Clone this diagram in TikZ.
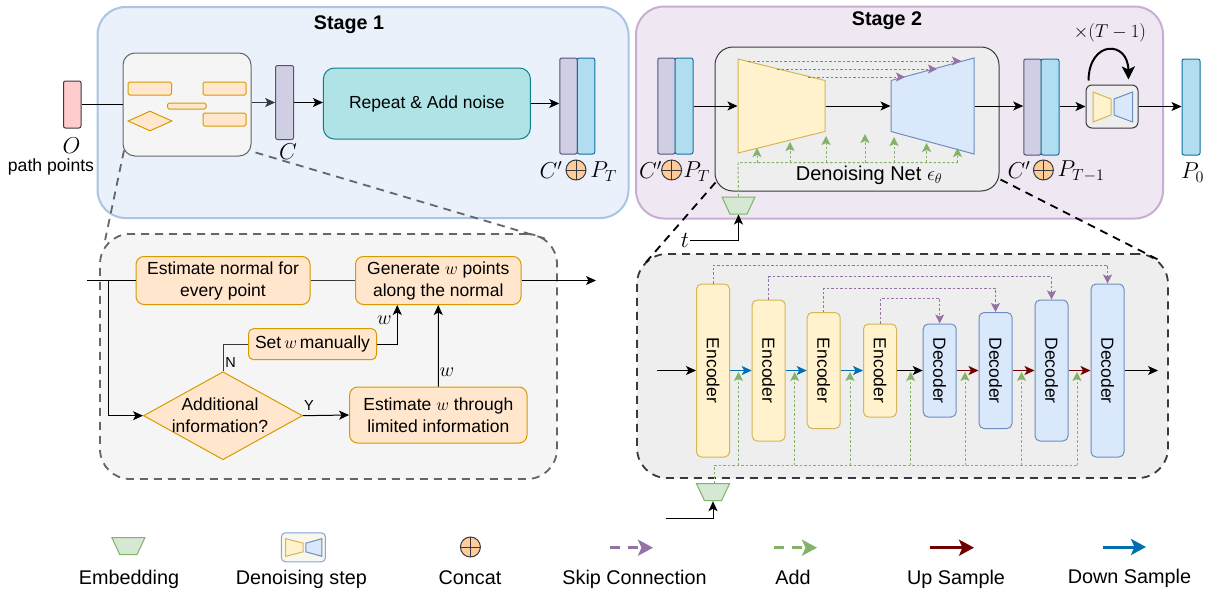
\documentclass[tikz,border=0pt]{standalone}
\usepackage{fix-cm}
\usepackage{amsmath}
\usepackage{fontspec}
\setmainfont{Liberation Sans}
\usetikzlibrary{arrows.meta,shapes.geometric}
\definecolor{stageonefill}{HTML}{EAF1FB}
\definecolor{stageonedraw}{HTML}{A9C4E4}
\definecolor{stagetwofill}{HTML}{EFE8F3}
\definecolor{stagetwodraw}{HTML}{C8AED2}
\definecolor{graydraw}{HTML}{666666}
\definecolor{darkdraw}{HTML}{36393D}
\definecolor{grayfill}{HTML}{F5F5F5}
\definecolor{netfill}{HTML}{EEEEEE}
\definecolor{orangefill}{HTML}{FFE6CC}
\definecolor{orangedraw}{HTML}{D79B00}
\definecolor{yellowfill}{HTML}{FFF2CC}
\definecolor{yellowdraw}{HTML}{D6B656}
\definecolor{bluefill}{HTML}{DAE8FC}
\definecolor{bluedraw}{HTML}{6C8EBF}
\definecolor{greenfill}{HTML}{D5E8D4}
\definecolor{greendraw}{HTML}{82B366}
\definecolor{purpledraw}{HTML}{9673A6}
\definecolor{pinkfill}{HTML}{FFCCCC}
\definecolor{noisefill}{HTML}{B0E3E6}
\definecolor{noisedraw}{HTML}{0E8088}
\definecolor{ptfill}{HTML}{B1DDF0}
\definecolor{ptdraw}{HTML}{10739E}
\definecolor{condfill}{HTML}{D0CEE2}
\definecolor{conddraw}{HTML}{56517E}
\definecolor{concatfill}{HTML}{FFCC99}
\definecolor{upcolor}{HTML}{6F0000}
\definecolor{downcolor}{HTML}{006EAF}
\definecolor{legendfill}{HTML}{F9F6EC}
\definecolor{legenddraw}{HTML}{7EA6E0}
\begin{document}
\begin{tikzpicture}[x=1pt,y=-1pt,line width=1pt]
    \tikzstyle{every node}+=[inner sep=0pt]
    \tikzstyle{txt}=[font=\fontsize{17.5}{22}\selectfont,align=center]
    \tikzstyle{legendtxt}=[font=\fontsize{19.8}{22}\selectfont,anchor=base]
    \tikzstyle{titletxt}=[font=\fontsize{19.7}{22}\selectfont\bfseries]
    \tikzstyle{mathtxt}=[font=\fontsize{23}{26}\selectfont]
    \tikzstyle{smalltxt}=[font=\fontsize{14.5}{16}\selectfont]
    \tikzstyle{bar}=[rectangle,rounded corners=2pt,minimum width=17.5,minimum height=96]
    \tikzstyle{condbar}=[bar,draw=conddraw,fill=condfill]
    \tikzstyle{ptbar}=[bar,draw=ptdraw,fill=ptfill]
    \tikzstyle{flowbox}=[rectangle,rounded corners=8pt,draw=orangedraw,fill=orangefill,txt]
    \tikzstyle{minibox}=[rectangle,rounded corners=1.5pt,draw=orangedraw,fill=orangefill]
    \tikzstyle{encbox}=[rectangle,rounded corners=5pt,draw=yellowdraw,fill=yellowfill,minimum width=33,txt]
    \tikzstyle{decbox}=[rectangle,rounded corners=5pt,draw=bluedraw,fill=bluefill,minimum width=33,txt]
    \tikzstyle{trap}=[trapezium,trapezium stretches=true,text width=1pt,text height=1pt,text depth=0pt]
    \tikzstyle{enctrap}=[trap,draw=yellowdraw,fill=yellowfill,rotate=-90]
    \tikzstyle{dectrap}=[trap,draw=bluedraw,fill=bluefill,rotate=90]
    \tikzstyle{embtrap}=[trap,draw=greendraw,fill=greenfill,rotate=180,trapezium angle=65,minimum width=33,minimum height=17]
    \tikzstyle{concat}=[circle,draw=darkdraw,fill=concatfill,minimum size=20,path picture={\draw [darkdraw] (path picture bounding box.north) -- (path picture bounding box.south) (path picture bounding box.west) -- (path picture bounding box.east);}]
    \tikzstyle{flow}=[-{Stealth[length=10pt,width=9pt,inset=2.5pt]},black]
    \tikzstyle{skipline}=[-{Stealth[length=9pt,width=9pt,inset=2pt]},purpledraw,dash pattern=on 2.5pt off 2pt]
    \tikzstyle{addline}=[-{Stealth[length=9pt,width=9pt,inset=2pt]},greendraw,dash pattern=on 2.5pt off 2pt]
    \tikzstyle{downarrow}=[flow,downcolor,line width=1.4pt]
    \tikzstyle{uparrow}=[flow,upcolor,line width=1.4pt]
    \tikzstyle{zoomline}=[dash pattern=on 8pt off 6pt,line width=1.8pt]
    \useasboundingbox (0,0) rectangle (1213,589);
    \node [rectangle,rounded corners=28pt,draw=stageonedraw,fill=stageonefill,line width=2pt,minimum width=531,minimum height=211] (stageone) at (363,112.5) {};
    \node [rectangle,rounded corners=28pt,draw=stagetwodraw,fill=stagetwofill,line width=2pt,minimum width=527,minimum height=212] (stagetwo) at (899.5,112.5) {};
    \node [titletxt] (stageonetitle) at (349,25) {Stage 1};
    \node [titletxt] (stagetwotitle) at (887,21) {Stage 2};
    \node [rectangle,rounded corners=2pt,draw=darkdraw,fill=pinkfill,minimum width=17.5,minimum height=47] (obspts) at (72.25,104.5) {};
    \node [mathtxt] (obslabel) at (71.5,146) {$O$};
    \node [font=\fontsize{17.6}{20}\selectfont] (pathlabel) at (51,167) {path points};
    \node [rectangle,rounded corners=12pt,draw=graydraw,fill=grayfill,minimum width=128,minimum height=103] (extract) at (187,104.5) {};
    \node [minibox,minimum width=43.5,minimum height=13] (miniA) at (149.75,88.5) {};
    \node [minibox,minimum width=43,minimum height=13] (miniB) at (224.5,88.5) {};
    \node [minibox,minimum width=38.5,minimum height=6] (miniC) at (186.75,106) {};
    \node [minibox,minimum width=43,minimum height=13] (miniD) at (224.5,119.5) {};
    \node [diamond,draw=orangedraw,fill=orangefill,minimum width=44,minimum height=20,aspect=2.2] (miniE) at (150,121) {};
    \node [rectangle,rounded corners=2pt,draw=conddraw,fill=condfill,minimum width=18,minimum height=74] (cond) at (284.6,102.5) {};
    \node [mathtxt] (condlabel) at (288,152) {$C$};
    \node [rectangle,rounded corners=11pt,draw=noisedraw,fill=noisefill,minimum width=207,minimum height=71,txt] (noise) at (426.9,103.5) {Repeat \& Add noise};
    \node [condbar] (condA) at (568.5,106) {};
    \node [ptbar] (ptA) at (586,106) {};
    \node [mathtxt] (condAlabel) at (551,170) {$C'$};
    \node [concat] (concatA) at (576,170) {};
    \node [mathtxt] (ptAlabel) at (603.5,171.5) {$P_T$};
    \draw [black] (obspts.east) -- (extract.west);
    \draw [flow,draw=darkdraw] (extract.east |- cond) -- (cond.west);
    \draw [flow] (cond.east) -- (noise.west |- cond);
    \draw [flow] (noise.east) -- (condA.west |- noise);
    \node [condbar] (condB) at (666.5,106) {};
    \node [ptbar,minimum width=18] (ptB) at (684,106) {};
    \node [mathtxt] (condBlabel) at (650.5,170) {$C'$};
    \node [concat] (concatB) at (671.6,170) {};
    \node [mathtxt] (ptBlabel) at (696.5,171.5) {$P_T$};
    \node [rectangle,rounded corners=18pt,draw=darkdraw,fill=netfill,minimum width=284,minimum height=144] (net) at (857,119) {};
    \node [enctrap,trapezium angle=67.1,minimum width=94,minimum height=87] (enc) at (781.5,106) {};
    \node [dectrap,trapezium angle=66.2,minimum width=96,minimum height=83] (dec) at (932.5,106) {};
    \node [txt,font=\fontsize{20}{24}\selectfont] (netlabel) at (869,175) {Denoising Net $\epsilon_\theta$};
    \node [condbar] (condC) at (1032.5,107) {};
    \node [ptbar,minimum width=18] (ptC) at (1050,107) {};
    \node [mathtxt] (condClabel) at (1019,170) {$C'$};
    \node [concat] (concatC) at (1043.4,170) {};
    \node [mathtxt] (ptClabel) at (1081,171.5) {$P_{T-1}$};
    \node [rectangle,rounded corners=6pt,draw=darkdraw,fill=netfill,minimum width=52,minimum height=43] (stepbox) at (1112,106.5) {};
    \node [enctrap,trapezium angle=66.4,minimum width=30,minimum height=18] (stepenc) at (1102,107) {};
    \node [dectrap,trapezium angle=66.4,minimum width=30,minimum height=18.6] (stepdec) at (1123.3,107) {};
    \node [font=\fontsize{18.6}{22}\selectfont] (looplabel) at (1110,33) {$\times(T-1)$};
    \node [ptbar,minimum width=18] (ptD) at (1191,107) {};
    \node [mathtxt] (ptDlabel) at (1192.5,172.5) {$P_0$};
    \node [embtrap] (embnet) at (738.5,205.5) {};
    \node [mathtxt] (tlabel) at (685,240) {$t$};
    \draw [flow] (ptB.east) -- (enc.bottom side);
    \draw [flow] (enc.top side) -- (dec.top side);
    \draw [flow] (dec.bottom side) -- (condC.west |- dec);
    \draw [flow,line width=1.5pt] (ptC.east |- stepbox) -- (stepbox.west);
    \draw [flow] (stepbox.east) -- (ptD.west |- stepbox);
    \draw [flow] (tlabel.east) -| (embnet.top side);
    \draw [-{Stealth[length=13pt,width=13pt,inset=3pt]},line width=2pt] ([shift={(3,-4)}]stepbox.north west) .. controls (1089,40) and (1128,40) .. ([shift={(-10,-5)}]stepbox.north east);
    \coordinate (skipAs) at (748,61);
    \coordinate (skipAe) at (961,61);
    \coordinate (skipBs) at (777,69);
    \coordinate (skipBe) at (937,69);
    \coordinate (skipCs) at (808,77);
    \coordinate (skipCe) at (905,77);
    \draw [skipline] (skipAs) -- (skipAe);
    \draw [skipline] (skipBs) -- (skipBe);
    \draw [skipline] (skipCs) -- (skipCe);
    \coordinate (addnet) at (738,162.5);
    \coordinate (addnetA) at (757,148);
    \coordinate (addnetB) at (790,142);
    \coordinate (addnetC) at (826,136);
    \coordinate (addnetD) at (865,134);
    \coordinate (addnetE) at (894,137);
    \coordinate (addnetF) at (926.6,143);
    \coordinate (addnetG) at (957.5,148);
    \draw [greendraw,dash pattern=on 2.5pt off 2pt] (embnet.bottom side) -- (addnet) -- (addnet -| addnetG);
    \draw [addline] (addnet -| addnetA) -- (addnetA);
    \draw [addline] (addnet -| addnetB) -- (addnetB);
    \draw [addline] (addnet -| addnetC) -- (addnetC);
    \draw [addline] (addnet -| addnetD) -- (addnetD);
    \draw [addline] (addnet -| addnetE) -- (addnetE);
    \draw [addline] (addnet -| addnetF) -- (addnetF);
    \draw [addline] (addnet -| addnetG) -- (addnetG);
    \node [rectangle,rounded corners=30pt,draw=graydraw,fill=grayfill,zoomline,minimum width=457,minimum height=245] (flowarea) at (328.5,356.5) {};
    \draw [graydraw,zoomline] ([shift={(1.5,-6)}]extract.south west) -- ([shift={(6,7)}]flowarea.north west);
    \draw [graydraw,zoomline] ([shift={(4,-4)}]extract.south east) -- ([shift={(-11,6)}]flowarea.north east);
    \node [flowbox,minimum width=174,minimum height=48] (normal) at (223,280.5) {Estimate normal for\\every point};
    \node [flowbox,minimum width=165.5,minimum height=48] (generate) at (438.25,280.5) {Generate $w$ points\\along the normal};
    \node [flowbox,rounded corners=5pt,minimum width=128,minimum height=31] (setw) at (312.5,344.2) {Set\,$w$\,manually};
    \node [diamond,draw=orangedraw,fill=orangefill,minimum width=159,minimum height=88,aspect=1.8] (addinfo) at (223,415.7) {};
    \node [txt] (addinfotext) at (220,415.7) {Additional\\information?};
    \node [flowbox,minimum width=177.4,minimum height=56] (estw) at (438.3,415) {Estimate $w$ through\\limited information};
    \coordinate (flowin) at (87,280.5);
    \coordinate (flowsplit) at (108,280.5);
    \coordinate (flowout) at (596,280.5);
    \draw [black] (flowin) -- (normal.west);
    \draw [flow] (flowsplit) |- (addinfo.west);
    \draw [darkdraw] (normal.east) -- (generate.west);
    \draw [flow] (generate.east) -- (flowout);
    \draw [flow] (setw.east) -| ([xshift=-41pt]generate.south);
    \draw [flow] (estw.north) -- (generate.south);
    \draw [darkdraw] (addinfo.north) |- (setw.west);
    \draw [flow] (addinfo.east) -- (estw.west);
    \node [smalltxt] (nlabel) at (230.7,363) {N};
    \node [smalltxt] (ylabel) at (309,405.7) {Y};
    \node [font=\fontsize{20}{22}\selectfont] (wlabelA) at (384.5,320) {$w$};
    \node [font=\fontsize{20}{22}\selectfont] (wlabelB) at (447,371.7) {$w$};
    \node [rectangle,rounded corners=30pt,draw=darkdraw,fill=netfill,zoomline,minimum width=531,minimum height=224] (unetarea) at (902.5,366) {};
    \draw [black,zoomline] ([shift={(1,-9)}]net.south west) -- ([shift={(10,9)}]unetarea.north west);
    \draw [black,zoomline] ([shift={(1,-12)}]net.south east) -- ([shift={(-8,8)}]unetarea.north east);
    \node [encbox,minimum height=173] (encA) at (713,370.5) {\rotatebox{-90}{Encoder}};
    \node [encbox,minimum height=141] (encB) at (768.7,370.5) {\rotatebox{-90}{Encoder}};
    \node [encbox,minimum height=116] (encC) at (823.7,370.5) {\rotatebox{-90}{Encoder}};
    \node [encbox,minimum height=93] (encD) at (880,370.5) {\rotatebox{-90}{Encoder}};
    \node [decbox,minimum height=93] (decA) at (939.7,370.5) {\rotatebox{-90}{Decoder}};
    \node [decbox,minimum height=116] (decB) at (995.5,370.5) {\rotatebox{-90}{Decoder}};
    \node [decbox,minimum height=141] (decC) at (1051.5,370.5) {\rotatebox{-90}{Decoder}};
    \node [decbox,minimum height=173] (decD) at (1107.5,370.5) {\rotatebox{-90}{Decoder}};
    \coordinate (unetin) at (657,370.5);
    \coordinate (unetout) at (1158,370.5);
    \draw [flow] (unetin) -- (encA.west);
    \draw [downarrow] (encA.east) -- (encB.west);
    \draw [downarrow] (encB.east) -- (encC.west);
    \draw [downarrow] (encC.east) -- (encD.west);
    \draw [flow] (encD.east) -- (decA.west);
    \draw [uparrow] (decA.east) -- (decB.west);
    \draw [uparrow] (decB.east) -- (decC.west);
    \draw [uparrow] (decC.east) -- (decD.west);
    \draw [flow] (decD.east) -- (unetout);
    \draw [skipline] (encA.north) -- ++(0,-18.3) -| (decD.north);
    \draw [skipline] (encB.north) -- ++(0,-23) -| (decC.north);
    \draw [skipline] (encC.north) -- ++(0,-24) -| (decB.north);
    \draw [skipline] (encD.north) -- ++(0,-25) -| (decA.north);
    \node [embtrap] (embunet) at (713,492.2) {};
    \coordinate (embin) at (666,518);
    \draw [flow] (embin) -| (embunet.top side);
    \coordinate (addunet) at (714.4,465);
    \coordinate (addunetA) at (738.5,372);
    \coordinate (addunetB) at (794.7,372);
    \coordinate (addunetC) at (850,372);
    \coordinate (addunetD) at (910.7,372);
    \coordinate (addunetE) at (965,372);
    \coordinate (addunetF) at (1021.5,372);
    \coordinate (addunetG) at (1077,372);
    \draw [greendraw,dash pattern=on 2.5pt off 2pt] (embunet.bottom side -| addunet) -- (addunet) -- (addunet -| addunetG);
    \draw [addline] (addunet -| addunetA) -- (addunetA);
    \draw [addline] (addunet -| addunetB) -- (addunetB);
    \draw [addline] (addunet -| addunetC) -- (addunetC);
    \draw [addline] (addunet -| addunetD) -- (addunetD);
    \draw [addline] (addunet -| addunetE) -- (addunetE);
    \draw [addline] (addunet -| addunetF) -- (addunetF);
    \draw [addline] (addunet -| addunetG) -- (addunetG);
    \node [embtrap] (embkey) at (128.4,546.2) {};
    \node [legendtxt] (embkeytext) at (129,584) {Embedding};
    \node [rectangle,rounded corners=4pt,draw=legenddraw,fill=legendfill,minimum width=44,minimum height=29] (stepkey) at (303.4,547.3) {};
    \node [enctrap,trapezium angle=63,minimum width=17.6,minimum height=17.5] (stepkeyenc) at (294.45,547.5) {};
    \node [dectrap,trapezium angle=63,minimum width=17.6,minimum height=16] (stepkeydec) at (313.9,547.5) {};
    \node [legendtxt] (stepkeytext) at (301.4,584) {Denoising step};
    \node [concat] (concatkey) at (470.4,547) {};
    \node [legendtxt] (concatkeytext) at (470,584) {Concat};
    \coordinate (skipkeyA) at (610,547.7);
    \coordinate (skipkeyB) at (653,547.7);
    \coordinate (addkeyA) at (774,547.7);
    \coordinate (addkeyB) at (817,547.7);
    \coordinate (upkeyA) at (930,547.7);
    \coordinate (upkeyB) at (974,547.7);
    \coordinate (downkeyA) at (1103,547);
    \coordinate (downkeyB) at (1146,547);
    \draw [-{Stealth[length=15pt,width=16pt,inset=3.5pt]},purpledraw,line width=3pt,dash pattern=on 10pt off 8pt] (skipkeyA) -- (skipkeyB);
    \draw [-{Stealth[length=15pt,width=16pt,inset=3.5pt]},greendraw,line width=3pt,dash pattern=on 10pt off 8pt] (addkeyA) -- (addkeyB);
    \draw [-{Stealth[length=15pt,width=16pt,inset=3.5pt]},upcolor,line width=3pt] (upkeyA) -- (upkeyB);
    \draw [-{Stealth[length=15pt,width=16pt,inset=3.5pt]},downcolor,line width=3pt] (downkeyA) -- (downkeyB);
    \node [legendtxt] (skipkeytext) at (634.5,584) {Skip Connection};
    \node [legendtxt] (addkeytext) at (793,584) {Add};
    \node [legendtxt] (upkeytext) at (956,584) {Up Sample};
    \node [legendtxt] (downkeytext) at (1129.5,583) {Down Sample};
\end{tikzpicture}
\end{document}
